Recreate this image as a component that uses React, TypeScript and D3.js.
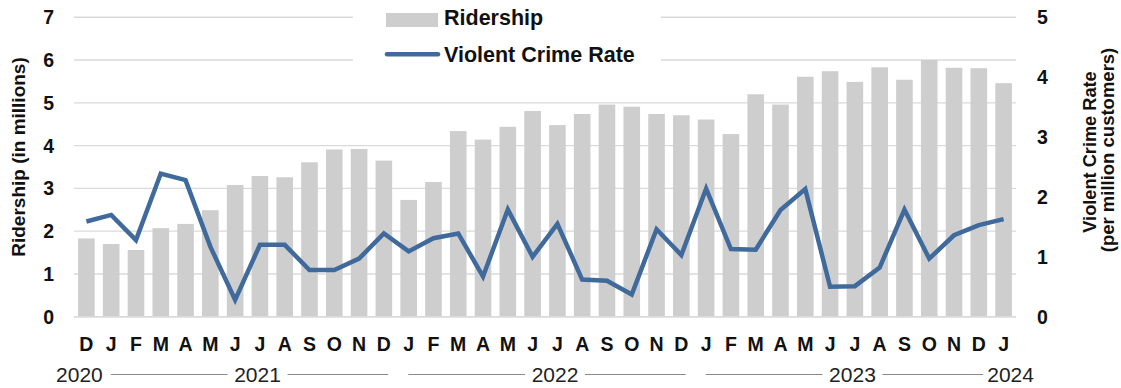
import React from "react";
import * as d3 from "d3";

const months = ["D","J","F","M","A","M","J","J","A","S","O","N","D","J","F","M","A","M","J","J","A","S","O","N","D","J","F","M","A","M","J","J","A","S","O","N","D","J"];

const ridership = [1.83,1.70,1.56,2.07,2.17,2.49,3.08,3.29,3.26,3.61,3.91,3.92,3.65,
  2.73,3.15,4.34,4.14,4.44,4.81,4.48,4.74,4.96,4.91,4.74,4.71,
  4.61,4.27,5.20,4.96,5.61,5.74,5.49,5.83,5.54,6.00,5.82,5.81,
  5.46];

const crimeRate = [1.59,1.70,1.28,2.39,2.28,1.17,0.28,1.20,1.20,0.78,0.78,0.97,1.39,
  1.09,1.31,1.39,0.67,1.79,1.00,1.55,0.62,0.60,0.37,1.46,1.03,
  2.14,1.13,1.12,1.78,2.13,0.50,0.51,0.82,1.79,0.97,1.36,1.53,
  1.63];

const leftTicks = [0,1,2,3,4,5,6,7];
const rightTicks = [0,1,2,3,4,5];

const yearLabels = ["2020","2021","2022","2023","2024"];
const yearFirst = [0,1,13,25,37];
const yearLast = [0,12,24,36,37];

const W = 1121, H = 388;
const FONT = "'Liberation Sans', Arial, Helvetica, sans-serif";
const BAR = "#cfcecf";
const LINE = "#3f6a9b";
const GRID = "#dadada";

export default function App() {
  const idx = months.map((_, i) => i);
  const x = d3.scaleBand<number>().domain(idx).range([74, 1016]).paddingInner(0.33).paddingOuter(0.165);
  const yL = d3.scaleLinear().domain([0, 7]).range([316.7, 17.3]);
  const yR = d3.scaleLinear().domain([0, 5]).range([316.7, 17.3]);
  const bw = x.bandwidth();
  const cx = (i: number) => (x(i) as number) + bw / 2;
  const step = x.step();
  const line = d3.line<number>().x((_, i) => cx(i)).y((d) => yR(d));

  const yearEls: React.ReactNode[] = [];
  yearLabels.forEach((lab, k) => {
    const f = yearFirst[k], l = yearLast[k];
    if (f === l) {
      const off = k === 0 ? -7 : 7;
      yearEls.push(<text key={lab} x={cx(f) + off} y={381.5} textAnchor="middle" fontSize={21} fill="#222">{lab}</text>);
    } else {
      const gs = cx(f) - step / 2, ge = cx(l) + step / 2;
      const c = (gs + ge) / 2 + 10;
      const s = gs + 12, e = ge - 8;
      yearEls.push(<g key={lab}>
        <line x1={s} x2={c - 30} y1={374.5} y2={374.5} stroke="#8a8a8a" strokeWidth={1} />
        <text x={c} y={381.5} textAnchor="middle" fontSize={21} fill="#222">{lab}</text>
        <line x1={c + 30} x2={e} y1={374.5} y2={374.5} stroke="#8a8a8a" strokeWidth={1} />
      </g>);
    }
  });

  return (
    <svg width={W} height={H} style={{ position: "absolute", left: 0, top: 0, display: "block" }} fontFamily={FONT}>
      <rect width={W} height={H} fill="#fff" />
      {leftTicks.map((t) => (
        <line key={"g" + t} x1={74} x2={1016} y1={yL(t)} y2={yL(t)} stroke={GRID} strokeWidth={1.4} />
      ))}
      {/* legend background */}
      <rect x={353} y={0} width={308} height={75} fill="#fff" />
      {ridership.map((v, i) => (
        <rect key={"b" + i} x={x(i)} y={yL(v)} width={bw} height={yL(0) - yL(v)} fill={BAR} />
      ))}
      <line x1={74} x2={1016} y1={yL(0)} y2={yL(0)} stroke={GRID} strokeWidth={1.4} />
      <path d={line(crimeRate) as string} fill="none" stroke={LINE} strokeWidth={4.5} strokeLinejoin="miter" />
      {/* left ticks */}
      {leftTicks.map((t) => (
        <text key={"l" + t} x={54} y={yL(t) + 7} textAnchor="end" fontSize={19.5} fontWeight="bold" fill="#111">{t}</text>
      ))}
      {rightTicks.map((t) => (
        <text key={"r" + t} x={1037} y={yR(t) + 7} textAnchor="start" fontSize={19.5} fontWeight="bold" fill="#111">{t}</text>
      ))}
      {/* month labels */}
      {months.map((m, i) => (
        <text key={"m" + i} x={cx(i)} y={350.5} textAnchor="middle" fontSize={19.5} fontWeight="bold" fill="#111">{m}</text>
      ))}
      {yearEls}
      {/* axis titles */}
      <text transform="translate(25,157) rotate(-90)" textAnchor="middle" fontSize={19} fontWeight="bold" fill="#111">Ridership (in millions)</text>
      <text transform="translate(1096,152) rotate(-90)" textAnchor="middle" fontSize={18.2} fontWeight="bold" fill="#111">Violent Crime Rate</text>
      <text transform="translate(1113.5,150) rotate(-90)" textAnchor="middle" fontSize={18.5} fontWeight="bold" fill="#111">(per million customers)</text>
      {/* legend */}
      <rect x={386} y={13} width={52} height={14} fill={BAR} />
      <text x={444} y={24.5} fontSize={21.5} fontWeight="bold" fill="#111">Ridership</text>
      <line x1={387} x2={438} y1={54.3} y2={54.3} stroke={LINE} strokeWidth={4.5} strokeLinecap="round" />
      <text x={444} y={61.5} fontSize={21.5} fontWeight="bold" fill="#111">Violent Crime Rate</text>
    </svg>
  );
}
